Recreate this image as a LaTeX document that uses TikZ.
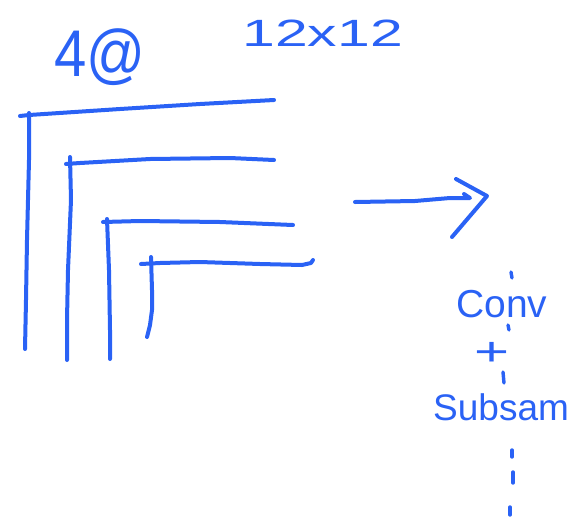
\documentclass[tikz,border=0pt]{standalone}
\usepackage{fontspec}
\setmainfont{Liberation Sans}
\definecolor{pen}{RGB}{42,98,245}
\begin{document}
\begin{tikzpicture}[x=1pt,y=-1pt,
  ink/.style={draw=pen,line width=4pt,line cap=round,line join=round},
  dashink/.style={draw=pen,line width=3.4pt,line cap=round},
  handtext/.style={text=pen,inner sep=0pt,anchor=base west}]
\useasboundingbox (0,0) rectangle (582,523);
% frames
\draw[ink] (20,116) -- (29,115) -- (120,109) -- (200,104) -- (274,100);
\draw[ink] (29,113) -- (29,160) -- (27,240) -- (26,300) -- (25,349);
\draw[ink] (66,164) -- (80,163) -- (150,159) -- (230,158) -- (274,160);
\draw[ink] (70,157) -- (71,200) -- (68,270) -- (67,320) -- (67,360);
\draw[ink] (103,222) -- (140,221) -- (220,222) -- (293,225);
\draw[ink] (107,219) -- (109,270) -- (110,330) -- (110,359);
\draw[ink] (141,264) -- (160,263) -- (200,262) -- (260,264) -- (302,265) -- (311,263) -- (313,260);
\draw[ink] (151,257) -- (152,290) -- (152,310) -- (150,325) -- (147,337);
% arrow
\coordinate (as) at (355,202);
\coordinate (ae) at (470,198);
\draw[ink] (as) -- (415,201) -- (450,198) -- (ae) -- (464,194);
\draw[ink] (456,179) -- (487,196) -- (452,237);
% texts
\node[handtext,font=\fontsize{66}{66}\selectfont,xscale=0.88] (n4) at (54,76) {4@};
\node[handtext,font=\fontsize{38}{38}\selectfont,xscale=1.55] (size) at (242,46) {12x12};
\node[handtext,font=\fontsize{39}{39}\selectfont] (conv) at (456,317) {Conv};
\node[handtext,font=\fontsize{40}{40}\selectfont,xscale=1.5] (plus) at (474,365) {+};
\node[handtext,font=\fontsize{37}{37}\selectfont] (sub) at (433,420) {Subsam};
% dashes
\draw[dashink] (511,272) -- (512,278);
\draw[dashink] (508,325) -- (509,330);
\draw[dashink] (503,372) -- (504,383);
\draw[dashink] (512,450) -- (512,457);
\draw[dashink] (513,472) -- (513,483);
\draw[dashink] (510,507) -- (510,515);
\end{tikzpicture}
\end{document}
